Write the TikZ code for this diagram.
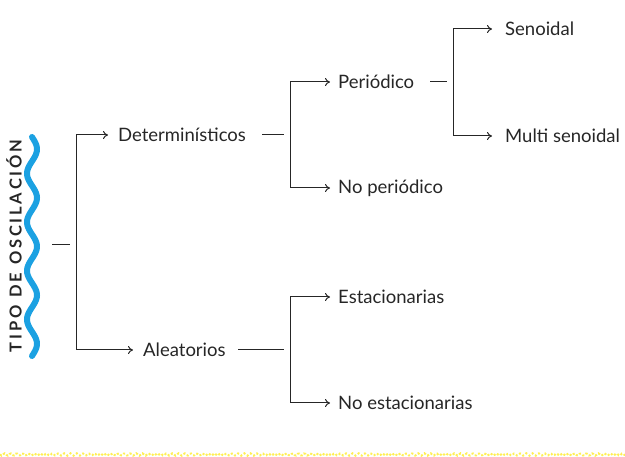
\documentclass[tikz,border=0pt]{standalone}
\usepackage{fontspec}
\setmainfont{Lato}
\usetikzlibrary{arrows.meta}
\definecolor{wblue}{HTML}{1BA1E2}
\definecolor{wyel}{HTML}{FFEE55}
\begin{document}
\begin{tikzpicture}[x=1pt,y=-1pt,
  lbl/.style={anchor=west,inner sep=0pt,font=\fontsize{18.5}{20}\selectfont,text=black!85},
  conn/.style={draw=black!85,line width=1pt},
  arr/.style={conn,-{To[length=5pt,width=8pt]}}]
\useasboundingbox (0,0) rectangle (625,457);
% title and wave
\node[rotate=90,font=\bfseries\fontsize{16.5}{18}\selectfont,text=black!85] (title) at (14,246)
  {T\,I\,P\,O\ \ D\,E\ \ O\,S\,C\,I\,L\,A\,C\,I\,Ó\,N};
\draw[wblue,line width=6pt,line cap=round,domain=137:356,samples=120,smooth]
  plot ({32+5*sin(((\x-137)/219*4.5)*360)},\x);
\draw[wyel,line width=2pt,dotted,domain=0:625,samples=400]
  plot (\x,{454.5+1.2*sin(mod(\x,6)*60)});
% nodes
\node[lbl] (det) at (118,135) {Determinísticos};
\node[lbl] (ale) at (143,350) {Aleatorios};
\node[lbl] (per) at (338,82) {Periódico};
\node[lbl] (nop) at (338,188) {No periódico};
\node[lbl] (sen) at (505,29) {Senoidal};
\node[lbl] (mul) at (505,136) {Multi senoidal};
\node[lbl] (est) at (338,297) {Estacionarias};
\node[lbl] (noe) at (338,403) {No estacionarias};
% junctions
\coordinate (r0) at (52,245);
\coordinate (j0) at (76,245);
\coordinate (r1) at (262,135);
\coordinate (j1) at (290,135);
\coordinate (r2) at (430,82);
\coordinate (j2) at (453,82);
\coordinate (r3) at (238,350);
\coordinate (j3) at (290,350);
% connectors
\draw[conn] (r0) -- (70,245);
\draw[arr] (j0) |- ([xshift=-10pt]det.west);
\draw[arr] (j0) |- ([xshift=-10pt]ale.west);
\draw[conn] (r1) -- (284,135);
\draw[arr] (j1) |- ([xshift=-8pt]per.west);
\draw[arr] (j1) |- ([xshift=-8pt]nop.west);
\draw[conn] (r2) -- (447,82);
\draw[arr] (j2) |- ([xshift=-13pt]sen.west);
\draw[arr] (j2) |- ([xshift=-13pt]mul.west);
\draw[conn] (r3) -- (284,350);
\draw[arr] (j3) |- ([xshift=-8pt]est.west);
\draw[arr] (j3) |- ([xshift=-8pt]noe.west);
\end{tikzpicture}
\end{document}
